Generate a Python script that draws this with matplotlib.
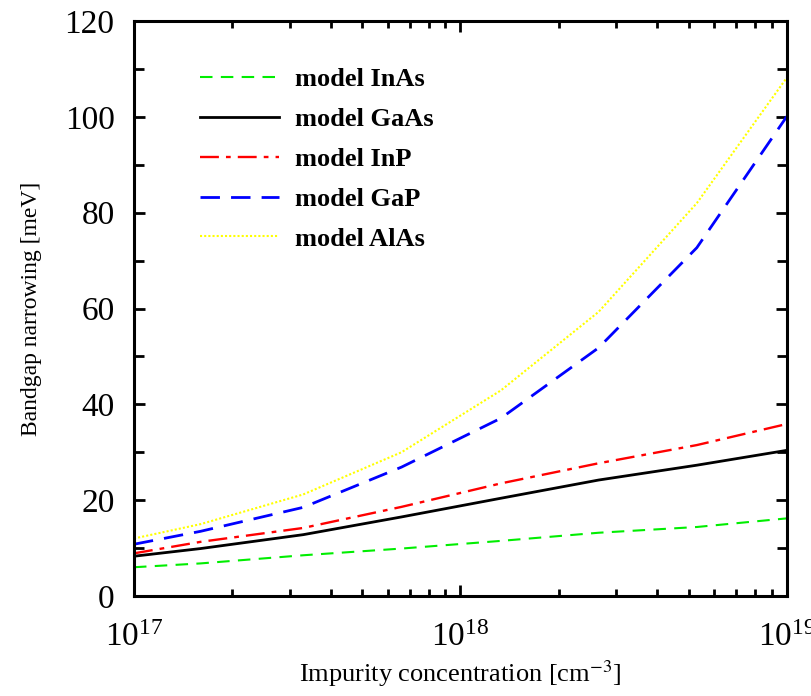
import numpy as np
import matplotlib
matplotlib.use("Agg")
import matplotlib.pyplot as plt
from matplotlib.ticker import LogLocator, LogFormatterMathtext, MultipleLocator

plt.rcParams['font.family'] = ['Liberation Serif', 'DejaVu Serif']
plt.rcParams['mathtext.fontset'] = 'stix'

# impurity concentration (cm^-3)
conc = [1e17, 1.6e17, 3.3e17, 6.6e17, 1.33e18, 2.65e18, 5.3e18, 1e19]

# bandgap narrowing (meV)
inas = [6.0, 6.8, 8.5, 9.9, 11.5, 13.2, 14.4, 16.2]
gaas = [8.3, 9.9, 12.8, 16.5, 20.4, 24.2, 27.3, 30.4]
inp = [8.9, 11.3, 14.2, 18.6, 23.5, 27.7, 31.5, 35.9]
gap = [10.8, 13.5, 18.5, 26.9, 37.1, 51.8, 72.7, 100.1]
alas = [12.0, 15.0, 21.2, 30.0, 42.9, 59.3, 82.0, 108.2]

fig = plt.figure(figsize=(8.12, 6.96), dpi=100)
ax = fig.add_axes([0.165, 0.1437, 0.804, 0.826])

ax.plot(conc, inas, color='#00ee00', lw=1.5, dashes=(6, 4), label='model InAs')
ax.plot(conc, gaas, color='black', lw=2.0, label='model GaAs')
ax.plot(conc, inp, color='#ff0000', lw=1.7, dashes=(8, 3, 2, 3), label='model InP')
ax.plot(conc, gap, color='#0000ff', lw=2.0, dashes=(7, 4), label='model GaP')
ax.plot(conc, alas, color='#ffff00', lw=1.5, dashes=(1, 1), label='model AlAs')

ax.set_xscale('log')
ax.set_xlim(1e17, 1e19)
ax.set_ylim(0, 120)
ax.xaxis.set_major_locator(LogLocator(base=10))
ax.xaxis.set_major_formatter(LogFormatterMathtext())
ax.xaxis.set_minor_locator(LogLocator(base=10, subs=np.arange(2, 10)))
ax.yaxis.set_major_locator(MultipleLocator(20))
ax.yaxis.set_minor_locator(MultipleLocator(10))

ax.tick_params(which='both', direction='in', top=True, right=True, width=2)
ax.tick_params(which='major', length=8, labelsize=24)
ax.tick_params(which='minor', length=5)
ax.tick_params(axis='y', which='minor', length=7)
ax.tick_params(axis='y', which='major', pad=14)
ax.tick_params(axis='x', which='major', pad=19)
for s in ax.spines.values():
    s.set_linewidth(2.2)

ax.set_xlabel('Impurity concentration [cm$^{-3}$]', fontsize=19, labelpad=4)
ax.set_ylabel('Bandgap narrowing [meV]', fontsize=17, labelpad=16)

leg = ax.legend(loc='upper left', frameon=False, prop={'weight': 'bold', 'size': 19},
                handlelength=3.0, handletextpad=0.6, labelspacing=0.62,
                bbox_to_anchor=(0.065, 0.96))

fig.savefig('out.png', dpi=100)
